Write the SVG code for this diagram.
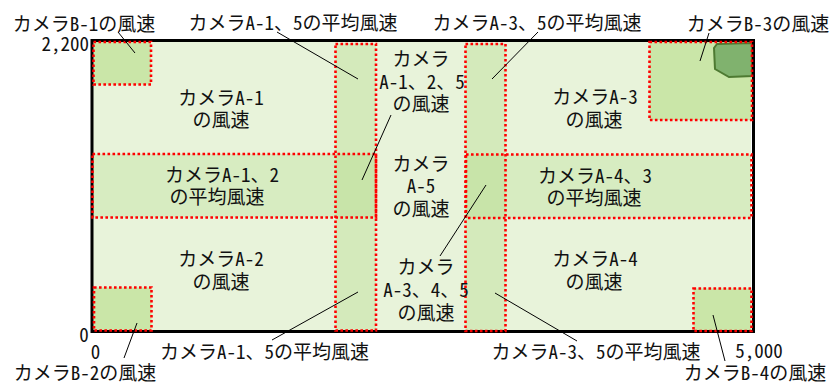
<svg xmlns="http://www.w3.org/2000/svg" width="831" height="384" viewBox="0 0 831 384">
<defs>
<style>
text { font-family: "Noto Sans Mono CJK JP", "Noto Sans CJK JP", "DejaVu Sans Mono", sans-serif; font-size: 19px; fill: #111; text-anchor: middle; }
.bg { fill: #e8f3da; }
.band { fill: #d7ecc1; }
.strip { fill: #d4eabb; }
.ovl { fill: #c8e4a9; }
.box { fill: #cae6a8; }
.dot { fill: none; stroke: #ff0000; stroke-width: 2.6; stroke-dasharray: 2.6 2.4; }
.lead { stroke: #000; stroke-width: 1; fill: none; }
.frame { fill: none; stroke: #000; stroke-width: 3; }
</style>
</defs>
<rect width="831" height="384" fill="#ffffff"/>
<rect class="bg" x="93" y="41" width="658" height="289"/>

<g id="band-a12"><rect class="band" x="93" y="154" width="283" height="63.5"/></g>
<g id="band-a43"><rect class="band" x="466" y="154.5" width="285" height="63.5"/></g>
<g id="strip-a15"><rect class="strip" x="335.5" y="43.5" width="40.5" height="287"/><rect class="ovl" x="335.5" y="154" width="40.5" height="63.5"/></g>
<g id="strip-a35"><rect class="strip" x="465.5" y="43.5" width="40" height="287.5"/><rect class="ovl" x="465.5" y="154.5" width="40" height="63.5"/></g>
<g id="box-b1"><rect class="box" x="93.5" y="42" width="57.5" height="42.5"/></g>
<g id="box-b3"><rect class="box" x="649.5" y="42" width="102.5" height="78"/><polygon points="717,44 714,48 715,69 729,77 752,76 752,43" fill="#80b26e" stroke="#4e7a32" stroke-width="2"/></g>
<g id="box-b2"><rect class="box" x="94" y="287.5" width="57.5" height="43"/></g>
<g id="box-b4"><rect class="box" x="693.5" y="288.5" width="58" height="42.5"/></g>

<rect class="frame" x="92" y="40.5" width="661.5" height="291"/>

<g id="outlines">
<rect class="dot" x="92.5" y="154" width="283.5" height="63.5"/>
<rect class="dot" x="466" y="154.5" width="285.5" height="63.5"/>
<rect class="dot" x="335.5" y="44" width="40.5" height="286.5"/>
<rect class="dot" x="465.5" y="44" width="40" height="287"/>
<rect class="dot" x="93.5" y="42" width="57.5" height="42.5"/>
<rect class="dot" x="649.5" y="42" width="102.5" height="78"/>
<rect class="dot" x="94" y="287.5" width="57.5" height="43"/>
<rect class="dot" x="693.5" y="288.5" width="58" height="42.5"/>
</g>

<g id="region-a1"><text x="221" y="105">カメラA-1</text><text x="221" y="127">の風速</text></g>
<g id="region-a12"><text x="222" y="182">カメラA-1、2</text><text x="217" y="204">の平均風速</text></g>
<g id="region-a2"><text x="221" y="266">カメラA-2</text><text x="221" y="289">の風速</text></g>
<g id="region-a125"><text x="421" y="66">カメラ</text><text x="422" y="89">A-1、2、5</text><text x="421" y="111">の風速</text></g>
<g id="region-a5"><text x="421" y="171">カメラ</text><text x="421" y="193">A-5</text><text x="421" y="216">の風速</text></g>
<g id="region-a345"><text x="426" y="274">カメラ</text><text x="426" y="297">A-3、4、5</text><text x="426" y="320">の風速</text></g>
<g id="region-a3"><text x="595" y="104">カメラA-3</text><text x="594" y="127">の風速</text></g>
<g id="region-a43"><text x="595" y="183">カメラA-4、3</text><text x="594" y="205">の平均風速</text></g>
<g id="region-a4"><text x="595" y="266">カメラA-4</text><text x="594" y="289">の風速</text></g>

<g id="connectors">
<line class="lead" x1="118" y1="32" x2="135" y2="53"/>
<line class="lead" x1="277" y1="32" x2="358" y2="79"/>
<line class="lead" x1="391" y1="115" x2="362" y2="180"/>
<line class="lead" x1="538" y1="32" x2="492" y2="79"/>
<line class="lead" x1="709" y1="33" x2="700" y2="61"/>
<line class="lead" x1="486" y1="185" x2="440" y2="256"/>
<line class="lead" x1="358" y1="292" x2="272" y2="340"/>
<line class="lead" x1="495" y1="293" x2="577" y2="341"/>
<line class="lead" x1="137" y1="323" x2="124" y2="358"/>
<line class="lead" x1="713" y1="315" x2="725" y2="361"/>
</g>

<g id="labels">
<text x="84" y="31">カメラB-1の風速</text>
<text x="293" y="30">カメラA-1、5の平均風速</text>
<text x="537" y="30">カメラA-3、5の平均風速</text>
<text x="758" y="31">カメラB-3の風速</text>
<text x="264.5" y="359">カメラA-1、5の平均風速</text>
<text x="596" y="359">カメラA-3、5の平均風速</text>
<text x="85" y="380">カメラB-2の風速</text>
<text x="755" y="380">カメラB-4の風速</text>
</g>
<g id="axis">
<text x="89" y="51" style="text-anchor:end">2,200</text>
<text x="84" y="342">0</text>
<text x="95.5" y="359">0</text>
<text x="759" y="358">5,000</text>
</g>
</svg>
